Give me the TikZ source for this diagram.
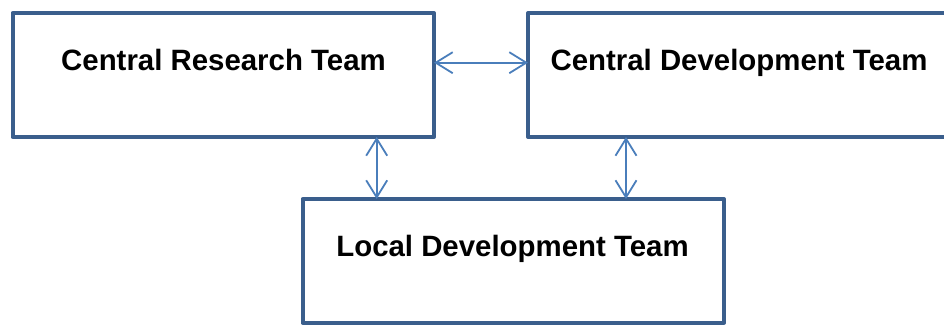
\documentclass[tikz,border=0pt]{standalone}
\usepackage{fontspec}
\setmainfont{Liberation Sans}
\usetikzlibrary{arrows.meta}
\definecolor{boxline}{HTML}{3A5E8C}
\definecolor{arrline}{HTML}{4A7EBB}
\tikzset{
  team/.style={draw=boxline, line width=4pt, line join=round, inner sep=0pt, outer sep=0pt, anchor=north west, fill=white},
  label/.style={font=\fontsize{29.4}{34}\selectfont\bfseries, anchor=base, inner sep=0pt},
  arr/.style={draw=arrline, line width=1.8pt, {Straight Barb[length=17pt,width=21pt,line width=1.8pt]}-{Straight Barb[length=17pt,width=21pt,line width=1.8pt]}}
}
\begin{document}
\begin{tikzpicture}[x=1pt,y=-1pt]
\useasboundingbox (0,0) rectangle (944,325);
\clip (0,0) rectangle (944,325);
\node[team, minimum width=421.5pt, minimum height=124pt] (b1) at (12.5,13) {};
\node[team, minimum width=422pt, minimum height=124pt] (b2) at (528,13) {};
\node[team, minimum width=421.5pt, minimum height=123.5pt] (b3) at (302.5,199) {};
\node[label] (t1) at (223.5,70.7) {Central Research Team};
\node[label] (t2) at (739,70.7) {Central Development Team};
\node[label] (t3) at (512.5,256) {Local Development Team};
\coordinate (v1) at (376.7,0);
\coordinate (v2) at (626,0);
\draw[arr] ([yshift=12.3pt]b1.east) -- ([yshift=12.3pt]b2.west);
\draw[arr] (b1.south -| v1) -- (b3.north -| v1);
\draw[arr] (b2.south -| v2) -- (b3.north -| v2);
\end{tikzpicture}
\end{document}
